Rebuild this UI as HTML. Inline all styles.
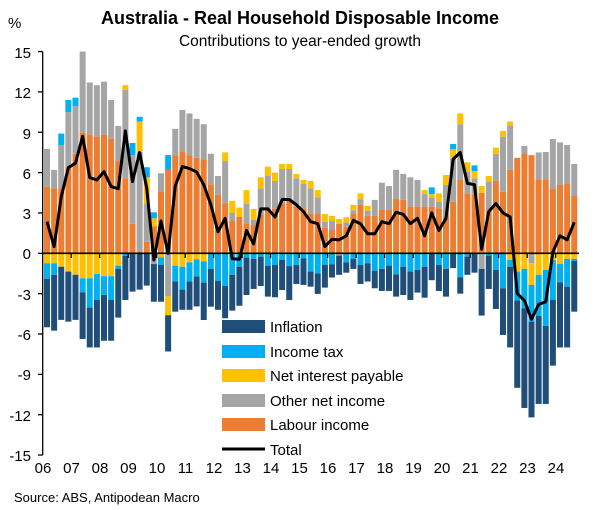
<!DOCTYPE html>
<html><head><meta charset="utf-8"><style>
html,body{margin:0;padding:0;background:#fff;}
svg{display:block;font-family:"Liberation Sans",Arial,sans-serif;}
</style></head><body>
<svg id="c" width="603" height="510" viewBox="0 0 603 510" xmlns="http://www.w3.org/2000/svg">
<rect width="603" height="510" fill="#fff"/>
<text x="300" y="24" text-anchor="middle" font-size="18" font-weight="bold">Australia - Real Household Disposable Income</text>
<text x="300" y="46" text-anchor="middle" font-size="15.5">Contributions to year-ended growth</text>
<text x="8" y="28" font-size="15">%</text>
<g id="bars"></g>
<g font-size="15" text-anchor="end">
<text x="31" y="58">15</text><text x="31" y="98">12</text><text x="31" y="139">9</text><text x="31" y="179">6</text><text x="31" y="219">3</text><text x="31" y="259">0</text><text x="31" y="300">-3</text><text x="31" y="340">-6</text><text x="31" y="380">-9</text><text x="31" y="421">-12</text><text x="31" y="461">-15</text>
</g>
<g font-size="15" text-anchor="middle" id="xl">
<text x="43" y="473">06</text><text x="71.5" y="473">07</text><text x="100" y="473">08</text><text x="128.5" y="473">09</text><text x="157" y="473">10</text><text x="185.5" y="473">11</text><text x="214" y="473">12</text><text x="242.5" y="473">13</text><text x="271" y="473">14</text><text x="299.5" y="473">15</text><text x="328" y="473">16</text><text x="356.5" y="473">17</text><text x="385" y="473">18</text><text x="413.5" y="473">19</text><text x="442" y="473">20</text><text x="470.5" y="473">21</text><text x="499" y="473">22</text><text x="527.5" y="473">23</text><text x="556" y="473">24</text>
</g>
<text x="14" y="502" font-size="13">Source: ABS, Antipodean Macro</text>
<g font-size="15">
<rect x="222" y="320" width="43" height="13" fill="#1F4E79"/><text x="270" y="332">Inflation</text>
<rect x="222" y="345" width="43" height="13" fill="#00B0F0"/><text x="270" y="357">Income tax</text>
<rect x="222" y="369" width="43" height="13" fill="#FFC000"/><text x="270" y="381">Net interest payable</text>
<rect x="222" y="394" width="43" height="13" fill="#A5A5A5"/><text x="270" y="406">Other net income</text>
<rect x="222" y="418" width="43" height="13" fill="#ED7D31"/><text x="270" y="430">Labour income</text>
<line x1="222" y1="449" x2="265" y2="449" stroke="#000" stroke-width="3"/><text x="270" y="455">Total</text>
</g>
</svg>
<script>
var D=[
[[4.96,7.76],[0,-0.74,-1.9,-5.5],2.35],
[[4.83,6.2],[0,-0.74,-1.6,-5.75],0.5],
[[4.83,8.05,8.05,8.9],[0,-1.0,-1.0,-4.95],4.2],
[[6.4,10.5,10.5,11.4],[0,-1.36,-1.36,-5.08],6.37],
[[7.4,10.95,10.95,11.57],[0,-1.6,-1.6,-4.95],6.7],
[[8.97,15],[0,-1.86,-2.9,-6.37],8.7],
[[8.85,12.7],[0,-1.86,-4.04,-7.0],5.63],
[[8.65,12.5],[0,-1.54,-3.47,-7.0],5.45],
[[8.85,12.76],[0,-1.7,-3.1,-6.5],6.07],
[[8.5,11.4],[0,-1.7,-3.47,-6.5],4.96],
[[6.86,9.47],[0,-0.92,-1.16,-4.78],4.8],
[[5.58,12.14,12.5],[0,0,-0.2,-3.47],9.1],
[[2.2,7.3,7.3,8.2],[0,0,0,-2.85],5.33],
[[0.1,7.55,9.8,10.15],[0,0,0,-2.7],7.5],
[[0.85,3.7,5.65,6.4],[0,0,0,-2.4],4.83],
[[2.0,2.0,2.6,3.05],[-0.8,-0.8,-0.8,-3.6],-0.5],
[[4.6,5.95],[0,-0.3,-0.87,-3.6],2.4],
[[6.2,6.2,6.2,7.3],[-3.2,-4.6,-4.6,-7.3],0.0],
[[7.3,9.25],[0,-0.92,-2.1,-4.34],5.0],
[[7.56,10.66],[0,-1.0,-2.7,-4.2],6.45],
[[7.3,10.4],[0,-0.67,-2.1,-4.2],6.3],
[[7.1,10.0],[0,-0.45,-1.73,-3.95],6.05],
[[7.0,9.6],[0,-0.6,-2.18,-4.96],5.1],
[[5.13,7.4],[0,0,-1.16,-3.97],3.6],
[[4.34,5.75],[0,0,-2.06,-4.2],1.6],
[[3.7,6.86,7.5],[0,0,-2.43,-4.83],2.6],
[[2.4,3.0,3.9],[0,0,-1.6,-4.26],-0.4],
[[2.7,2.7,3.4],[0,0,-1.0,-3.9],-0.45],
[[2.23,3.67,4.7],[0,0,-0.32,-3.1],1.7],
[[2.1,2.5,3.3],[0,0,-0.42,-2.65],0.7],
[[2.85,4.83,5.65],[0,0,-0.25,-2.43],3.3],
[[3.3,5.75,6.44],[0,0,-0.92,-3.22],3.3],
[[3.3,5.38,6.0],[0,0,-0.87,-3.27],2.7],
[[3.7,6.27,6.64],[0,0,-0.5,-2.73],4.0],
[[4.1,6.27,6.64],[0,0,-0.95,-3.47],4.0],
[[3.47,5.58,5.9],[0,0,-0.87,-2.28],3.6],
[[3.35,5.15,5.45],[0,0,-0.37,-2.35],3.1],
[[2.97,4.83,5.38],[0,0,-1.36,-2.48],2.35],
[[2.92,4.16,4.7],[0,0,-1.49,-3.02],2.2],
[[1.9,2.35,2.92],[0,0,-0.87,-2.55],0.5],
[[1.73,2.4,2.78],[0,0,-0.82,-1.8],1.04],
[[2.18,2.18,2.55],[-0.17,-0.17,-0.17,-1.6],1.0],
[[1.98,2.28,2.68],[0,0,-0.67,-1.44],1.3],
[[2.92,3.2,3.6],[0,0,-0.42,-1.16],2.45],
[[3.6,4.0,4.46],[0,0,-0.87,-2.28],2.2],
[[2.78,3.15,3.52],[0,0,-0.74,-2.1],1.45],
[[2.78,3.97],[0,0,-1.29,-2.6],1.45],
[[3.22,5.25],[0,0,-1.16,-2.8],2.35],
[[3.27,5.0],[0,0,-0.92,-2.8],2.2],
[[4.04,6.2],[0,0,-1.56,-3.22],3.05],
[[3.97,5.9],[0,0,-1.0,-3.1],2.9],
[[3.47,5.65],[0,0,-1.36,-3.47],2.2],
[[3.47,5.45],[0,0,-1.24,-2.92],2.6],
[[3.47,4.4,4.7],[0,0,-1.0,-3.3],1.3],
[[3.47,4.16,4.4,4.9],[0,0,0,-2.0],3.0],
[[3.35,3.84,4.46],[0,0,-0.87,-2.8],1.7],
[[2.73,5.08,5.82],[0,0,-1.16,-3.22],2.6],
[[3.84,7.06,7.73,8.13],[0,0,0,-1.1],7.0],
[[5.5,9.6,10.4],[0,0,-1.78,-3.0],7.5],
[[4.46,6.07,6.77],[0,0,-0.25,-1.6],5.2],
[[4.4,5.58,6.12,6.54],[0,0,0,-1.44],5.1],
[[4.5,4.5,5.0],[-1.16,-1.16,-1.16,-4.63],0.3],
[[3.17,5.33,5.75],[0,0,-0.17,-2.65],3.1],
[[5.4,7.4,7.86],[0,0,-1.24,-4.14],3.7],
[[4.58,8.67,9.1],[0,0,-2.6,-6.07],3.0],
[[6.2,9.5,9.8],[0,-0.5,-1.0,-7.0],2.7],
[[7.1],[0,-1.36,-3.5,-10.0],-3.0],
[[7.43,7.98],[0,-1.16,-4.1,-11.5],-3.5],
[[7.3],[-0.74,-2.35,-5.08,-12.2],-4.9],
[[5.5,7.5],[0,-1.6,-4.66,-11.2],-3.8],
[[5.5,7.53],[0,-1.24,-5.4,-11.2],-3.6],
[[4.78,8.5],[0,-0.5,-3.47,-8.35],0.1],
[[5.08,8.25],[0,-0.8,-2.16,-7.0],1.3],
[[5.2,8.05],[0,-0.42,-2.48,-7.0],1.0],
[[4.26,6.64],[0,-0.42,-0.57,-4.34],2.3]
];
var Y=function(v){return 253.3-13.45*v;};
var pc=["#ED7D31","#A5A5A5","#FFC000","#00B0F0"],nc=["#A5A5A5","#FFC000","#00B0F0","#1F4E79"];
var s="",pts=[];
D.forEach(function(d,i){
 var x=44+7.125*i,prev=0;
 d[0].forEach(function(v,k){if(v>prev){s+='<rect x="'+x.toFixed(2)+'" y="'+Y(v).toFixed(2)+'" width="6" height="'+(13.45*(v-prev)).toFixed(2)+'" fill="'+pc[k]+'"/>';prev=v;}});
 prev=0;
 d[1].forEach(function(v,k){if(v<prev){s+='<rect x="'+x.toFixed(2)+'" y="'+Y(prev).toFixed(2)+'" width="6" height="'+(13.45*(prev-v)).toFixed(2)+'" fill="'+nc[k]+'"/>';prev=v;}});
 pts.push((x+3).toFixed(2)+","+Y(d[2]).toFixed(2));
});
s+='<line x1="42.7" y1="51.6" x2="42.7" y2="455" stroke="#000" stroke-width="1.3"/>';
for(var v=-15;v<=15;v+=3){s+='<line x1="38" y1="'+Y(v)+'" x2="42.7" y2="'+Y(v)+'" stroke="#000" stroke-width="1.3"/>';}
s+='<line x1="42.7" y1="253.3" x2="579" y2="253.3" stroke="#000" stroke-width="1.6"/>';
for(var k=1;k<=18;k++){var tx=42.7+28.5*k;s+='<line x1="'+tx+'" y1="253.3" x2="'+tx+'" y2="258" stroke="#000" stroke-width="1.3"/>';}
s+='<polyline points="'+pts.join(" ")+'" fill="none" stroke="#000" stroke-width="3" stroke-linejoin="round"/>';
document.getElementById("bars").innerHTML=s;
</script>
</body></html>
